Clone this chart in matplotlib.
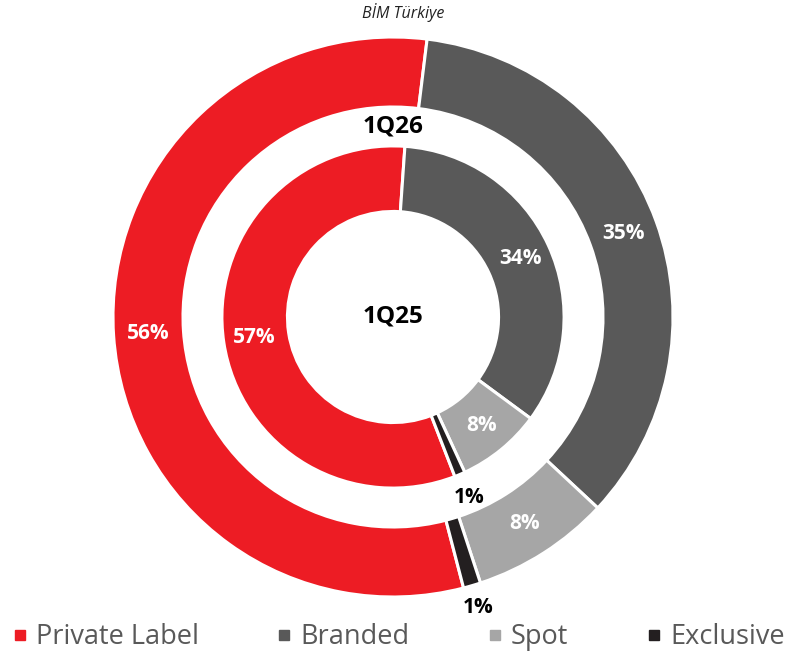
import numpy as np
import matplotlib.pyplot as plt
from matplotlib.lines import Line2D

# data
categories = ["Private Label", "Branded", "Spot", "Exclusive"]
share_1q26 = [56, 35, 8, 1]   # outer ring
share_1q25 = [57, 34, 8, 1]   # inner ring
colors = ["#ED1C24", "#595959", "#A6A6A6", "#231F20"]
title = "BİM Türkiye"

plt.rcParams['font.family'] = ['Open Sans', 'DejaVu Sans']

fig = plt.figure(figsize=(8, 6.54), dpi=100)
# axes sized so that radius 1 == 280 px, centred on (393, 317)
ax = fig.add_axes([(393 - 300) / 800, (654 - 317 - 300) / 654, 600 / 800, 600 / 654])

wp = dict(edgecolor='white', linewidth=2.2)
outer, _ = ax.pie(share_1q26, colors=colors, radius=1.0, startangle=284.6,
                  counterclock=False, wedgeprops=dict(width=0.25, **wp))
inner, _ = ax.pie(share_1q25, colors=colors, radius=0.611, startangle=291.2,
                  counterclock=False, wedgeprops=dict(width=0.234, **wp))
ax.set_xlim(-300 / 280, 300 / 280)
ax.set_ylim(-300 / 280, 300 / 280)
ax.set_aspect('equal')
ax.axis('off')


def label_ring(wedges, values, r_in, r_small):
    for w, v in zip(wedges, values):
        mid = np.deg2rad((w.theta1 + w.theta2) / 2)
        if v < 3:
            r, col = r_small, 'black'
        else:
            r, col = r_in, 'white'
        ax.text(r * np.cos(mid), r * np.sin(mid), f"{v}%", ha='center', va='center',
                color=col, fontsize=15, fontweight='bold')


label_ring(outer, share_1q26, 0.875, 1.08)
label_ring(inner, share_1q25, 0.50, 0.70)

ax.text(0, 0.0, "1Q25", ha='center', va='center', fontsize=17.5, fontweight='bold', color='black')
ax.text(0, 0.68, "1Q26", ha='center', va='center', fontsize=17.5, fontweight='bold', color='black')

fig.text(403 / 800, 1 - 12 / 654, title, ha='center', va='center', fontsize=11.5,
         fontstyle='italic', color='#222222')

handles = [Line2D([], [], marker='s', linestyle='none', markersize=7.5, color=c) for c in colors]
fig.legend(handles, categories, loc='center', bbox_to_anchor=(398 / 800, 1 - 637 / 654),
           ncol=4, frameon=False, fontsize=19.5, labelcolor='#595959', handlelength=0.6,
           handletextpad=0.3, columnspacing=2.85, borderaxespad=0, borderpad=0)

fig.savefig("out.png", dpi=100)
